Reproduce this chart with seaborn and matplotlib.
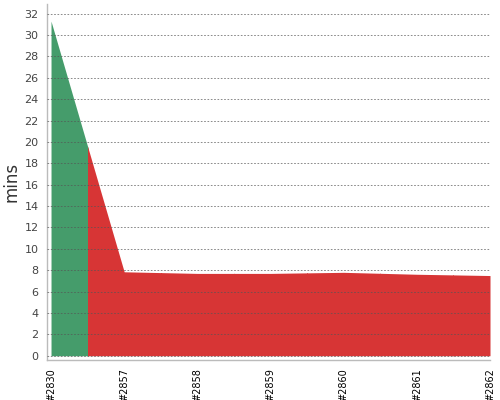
import matplotlib
matplotlib.use("Agg")
import matplotlib.pyplot as plt
import matplotlib.patches as mpatches
import seaborn as sns
import pandas as pd

# build trend data (minutes)
builds = ["#2830", "#2857", "#2858", "#2859", "#2860", "#2861", "#2862"]
durations = [31.3, 7.85, 7.7, 7.7, 7.8, 7.62, 7.5]
status = ["success", "failed", "failed", "failed", "failed", "failed", "failed"]

colors = {"success": "#459c6b", "failed": "#d73535"}

df = pd.DataFrame({"build": builds, "mins": durations, "status": status})
df["pos"] = range(len(df))

sns.set_style("white")
plt.rcParams['font.family'] = ['DejaVu Sans']

fig = plt.figure(figsize=(5, 4), dpi=100)
ax = fig.add_axes([0.094, 0.1, 0.886, 0.89])

# each build owns the area half a category on either side of it
for i, row in df.iterrows():
    c = colors[row["status"]]
    lo = max(i - 1, 0)
    hi = min(i + 1, len(df) - 1)
    seg = df.iloc[lo:hi + 1]
    poly = ax.fill_between(seg["pos"], 0, seg["mins"], color=c, linewidth=0, zorder=1)
    clip = mpatches.Rectangle((i - 0.5, -1), 1, 40, transform=ax.transData)
    poly.set_clip_path(clip)

sns.lineplot(data=df, x="pos", y="mins", ax=ax, linewidth=0, legend=False)

ax.set_xlim(-0.055, len(df) - 1)
ax.set_ylim(-0.4, 32.9)
ax.set_yticks(range(0, 33, 2))
ax.set_xticks(df["pos"])
ax.set_xticklabels(df["build"], rotation=90, fontsize=7, color="black")
ax.tick_params(axis="y", length=0, labelsize=8, labelcolor="#444444", pad=6)
ax.tick_params(axis="x", length=4, color="#bbbbbb", pad=2)

ax.grid(axis="y", linestyle=(0, (2, 2)), color="#555555", linewidth=0.6, alpha=0.8)
ax.set_axisbelow(False)
for ln in ax.get_ygridlines():
    ln.set_zorder(3)

for side in ["top", "right"]:
    ax.spines[side].set_visible(False)
for side in ["left", "bottom"]:
    ax.spines[side].set_color("#bbbbbb")
    ax.spines[side].set_linewidth(1)

ax.set_xlabel("")
ax.set_ylabel("mins", fontsize=12, color="#333333", labelpad=3)

fig.savefig("out.png", dpi=100)
